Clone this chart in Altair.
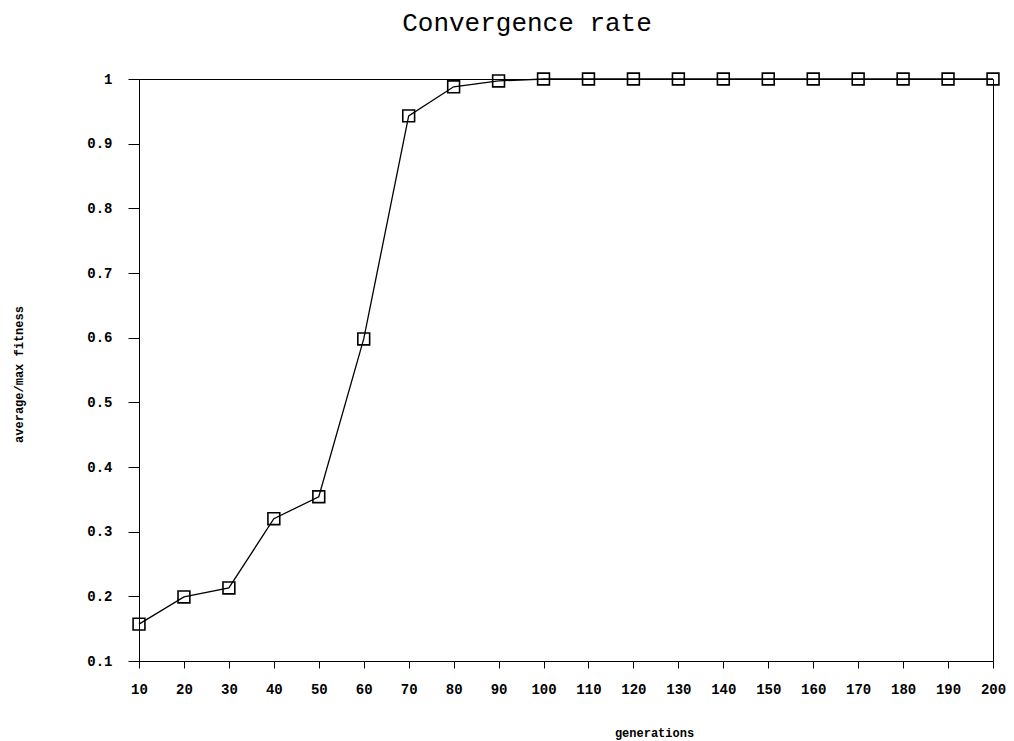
import altair as alt
import pandas as pd

generations = [10, 20, 30, 40, 50, 60, 70, 80, 90, 100,
               110, 120, 130, 140, 150, 160, 170, 180, 190, 200]
fitness = [0.157, 0.199, 0.213, 0.320, 0.354, 0.598, 0.943, 0.988, 0.997, 1.0,
           1.0, 1.0, 1.0, 1.0, 1.0, 1.0, 1.0, 1.0, 1.0, 1.0]
y_ticks = [0.1, 0.2, 0.3, 0.4, 0.5, 0.6, 0.7, 0.8, 0.9, 1.0]

df = pd.DataFrame({"generations": generations, "fitness": fitness})

W, H = 854, 582
MONO = "Liberation Mono"

x = alt.X("generations:Q",
          scale=alt.Scale(domain=[10, 200], nice=False, zero=False),
          axis=alt.Axis(values=generations, title="generations", format="d",
                        tickSize=7, labelPadding=14, labelFont=MONO, labelFontSize=14,
                        labelFontWeight="bold", labelColor="black",
                        titleFont=MONO, titleFontSize=12, titleFontWeight="bold",
                        titleColor="black",
                        titleX=515, titleY=71, titleBaseline="middle", titleAlign="center",
                        domainColor="black", tickColor="black", grid=False,
                        labelOverlap=False, labelFlush=False))
y = alt.Y("fitness:Q",
          scale=alt.Scale(domain=[0.1, 1.0], nice=False, zero=False),
          axis=alt.Axis(values=y_ticks, title="average/max fitness",
                        labelExpr="datum.value >= 0.999 ? '1' : format(datum.value, '.1f')",
                        tickSize=11, labelPadding=16, labelFont=MONO, labelFontSize=14,
                        labelFontWeight="bold", labelColor="black",
                        titleFont=MONO, titleFontSize=12, titleFontWeight="bold",
                        titleColor="black",
                        titleX=-121, titleY=295, titleAngle=-90, titleBaseline="middle",
                        titleAlign="center", domainColor="black", tickColor="black",
                        grid=False, labelOverlap=False, labelFlush=False))

line = alt.Chart(df).mark_line(color="black", strokeWidth=1.3).encode(x=x, y=y)
pts = alt.Chart(df).mark_point(shape="square", size=140, filled=False, color="black",
                               strokeWidth=1.6, opacity=1).encode(x=x, y=y)

chart = (line + pts).properties(
    width=W, height=H,
    title=alt.TitleParams("Convergence rate", font=MONO, fontSize=26, fontWeight="normal",
                          color="black", anchor="middle", dx=-39, offset=34),
    autosize=alt.AutoSizeParams(type="none"),
    padding={"left": 131, "top": 71, "right": 13, "bottom": 80},
).configure(background="white").configure_view(stroke="black", strokeWidth=1)

chart.save("out.html", embed_options={"renderer": "svg", "actions": False})
